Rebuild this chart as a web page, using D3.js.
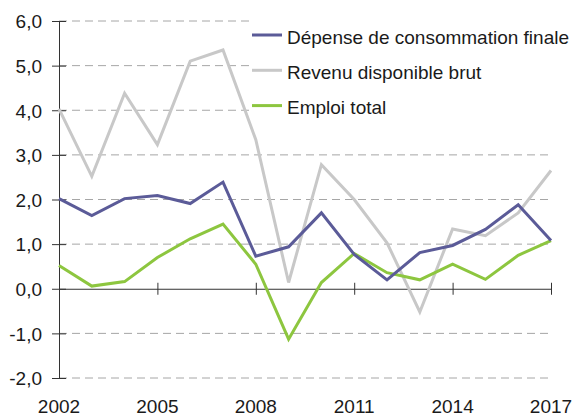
<!DOCTYPE html>
<html>

<head>
  <meta charset="UTF-8">
  <title>Consommation, revenu, emploi</title>
  <script src="https://d3js.org/d3.v7.min.js"></script>
  <style>
    body {
      margin: 0;
      background: #fff;
    }

    svg text {
      font-family: "Liberation Sans", Arial, sans-serif;
      font-size: 19px;
      fill: #1a1a1a;
    }
  </style>
</head>

<body>
  <svg></svg>

  <script>
    // data
    const years = [2002, 2003, 2004, 2005, 2006, 2007, 2008, 2009, 2010, 2011, 2012, 2013, 2014, 2015, 2016, 2017];
    const depense = [2.02, 1.64, 2.02, 2.09, 1.91, 2.39, 0.73, 0.94, 1.70, 0.77, 0.20, 0.81, 0.97, 1.33, 1.88, 1.08];
    const revenu = [4.03, 2.52, 4.38, 3.23, 5.10, 5.35, 3.34, 0.14, 2.78, 2.00, 1.03, -0.52, 1.34, 1.19, 1.70, 2.65];
    const emploi = [0.52, 0.06, 0.16, 0.70, 1.12, 1.45, 0.55, -1.13, 0.14, 0.79, 0.36, 0.20, 0.55, 0.21, 0.75, 1.08];
    const seriesNames = ["Dépense de consommation finale", "Revenu disponible brut", "Emploi total"];
    const yTicks = [-2, -1, 0, 1, 2, 3, 4, 5, 6];
    const xTicks = [2002, 2005, 2008, 2011, 2014, 2017];

    let width = 579,
      height = 414;

    let svg = d3.select("svg")
      .attr("width", width)
      .attr("height", height);

    let x = d3.scaleLinear().domain([2002, 2017]).range([59, 551]);
    let y = d3.scaleLinear().domain([-2, 6]).range([378, 21]);

    let fmt = d => d3.format(".1f")(d).replace(".", ",").replace("−", "-");

    // dashed grid
    svg.append("g")
      .selectAll("line")
      .data(yTicks.filter(d => d != 0))
      .enter()
      .append("line")
      .attr("x1", x(2002))
      .attr("x2", x(2017))
      .attr("y1", d => y(d))
      .attr("y2", d => y(d))
      .attr("stroke", "#a6a6a6")
      .attr("stroke-width", 1)
      .attr("stroke-dasharray", "8,5");

    // legend box hides the grid underneath
    svg.append("rect")
      .attr("x", 249)
      .attr("y", 8)
      .attr("width", 330)
      .attr("height", 112)
      .attr("fill", "#fff");

    // y axis
    let yAxis = svg.append("g")
      .attr("transform", "translate(" + x(2002) + ",0)")
      .call(d3.axisLeft(y).tickValues(yTicks).tickFormat(fmt).tickSize(7).tickSizeOuter(0).tickPadding(10));
    yAxis.selectAll(".tick line").attr("x1", 7);
    yAxis.selectAll("path, line").attr("stroke", "#333");
    yAxis.selectAll("text").attr("dy", "0.36em");

    // x axis on the zero line
    let xAxis = svg.append("g")
      .attr("transform", "translate(0," + y(0) + ")")
      .call(d3.axisBottom(x).tickValues(xTicks).tickFormat("").tickSize(6).tickSizeOuter(0));
    xAxis.selectAll(".tick line").attr("y1", -6);
    xAxis.selectAll("path, line").attr("stroke", "#333");

    // year labels at the bottom
    svg.append("g")
      .selectAll("text")
      .data(xTicks)
      .enter()
      .append("text")
      .attr("x", d => x(d))
      .attr("y", 413)
      .attr("text-anchor", "middle")
      .text(d => d);

    let series = [
      { name: seriesNames[0], values: depense, color: "#5b5b98" },
      { name: seriesNames[1], values: revenu, color: "#c8c8c8" },
      { name: seriesNames[2], values: emploi, color: "#8dc63f" }
    ];

    let line = d3.line()
      .x((d, i) => x(years[i]))
      .y(d => y(d));

    // draw grey first, then green, then blue on top
    [series[1], series[2], series[0]].forEach(s => {
      svg.append("path")
        .datum(s.values)
        .attr("d", line)
        .attr("fill", "none")
        .attr("stroke", s.color)
        .attr("stroke-width", 3)
        .attr("stroke-linejoin", "miter");
    });

    // legend
    let legend = svg.append("g")
      .selectAll("g")
      .data(series)
      .enter()
      .append("g")
      .attr("transform", (d, i) => "translate(252," + (35 + i * 35.3) + ")");

    legend.append("line")
      .attr("x1", 0)
      .attr("x2", 30)
      .attr("stroke", d => d.color)
      .attr("stroke-width", 3);

    legend.append("text")
      .attr("x", 35)
      .attr("y", 8.5)
      .text(d => d.name);
  </script>

</body>

</html>
